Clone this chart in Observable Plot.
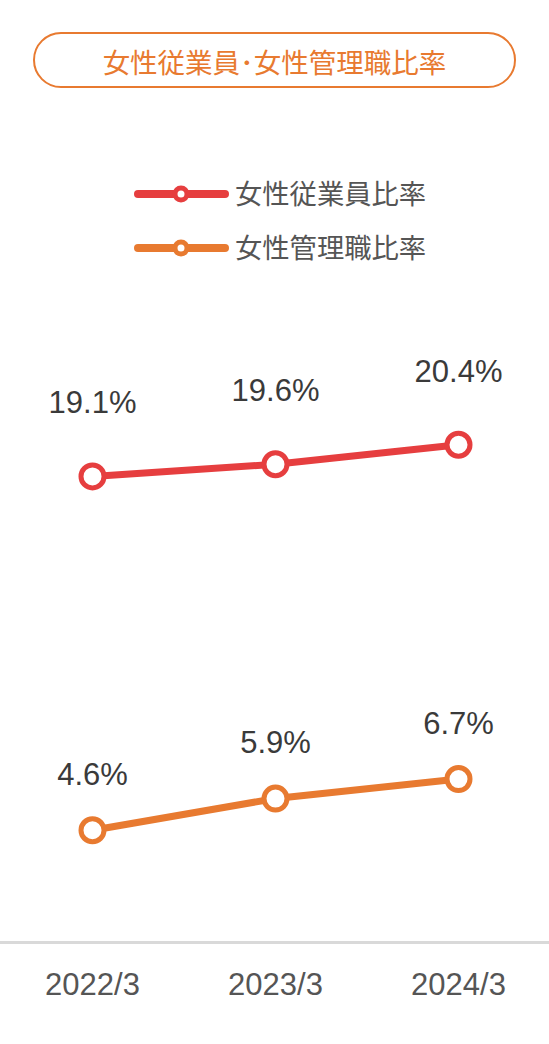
<!DOCTYPE html>
<html>
<head>
<meta charset="utf-8">
<script src="https://cdn.jsdelivr.net/npm/d3@7"></script>
<script src="https://cdn.jsdelivr.net/npm/@observablehq/plot@0.6"></script>
<style>
  html, body { margin: 0; padding: 0; background: #fff; }
  body { width: 549px; height: 1044px; position: relative; overflow: hidden; font-family: "Liberation Sans", Arial, sans-serif; }
  #title {
    position: absolute; left: 33px; top: 32px; width: 483px; height: 56px; box-sizing: border-box;
    border: 2.5px solid #e87a30; border-radius: 30px;
    color: #e87a30; font-family: "Noto Sans CJK JP", sans-serif; font-size: 27.5px;
    display: flex; align-items: center; justify-content: center; padding-top: 2px;
  }
  #legend { position: absolute; left: 0; top: 160px; }
  #chart { position: absolute; left: 0; top: 280px; }
</style>
</head>
<body>
<div id="title">女性従業員･女性管理職比率</div>
<div id="legend"></div>
<div id="chart"></div>
<script>
const years = ["2022/3", "2023/3", "2024/3"];
const employeeRatio = [19.1, 19.6, 20.4];
const managerRatio = [4.6, 5.9, 6.7];
const seriesNames = ["女性従業員比率", "女性管理職比率"];
const seriesColors = ["#e63e3f", "#e87a30"];

// legend
const legendSvg = d3.create("svg").attr("width", 549).attr("height", 110);
seriesNames.forEach((name, i) => {
  const cy = 34 + i * 54;
  const g = legendSvg.append("g");
  g.append("line").attr("x1", 138).attr("x2", 225).attr("y1", cy).attr("y2", cy)
    .attr("stroke", seriesColors[i]).attr("stroke-width", 8).attr("stroke-linecap", "round");
  g.append("circle").attr("cx", 181).attr("cy", cy).attr("r", 6)
    .attr("fill", "#fff").attr("stroke", seriesColors[i]).attr("stroke-width", 5);
  g.append("text").attr("x", 235).attr("y", cy).attr("dy", "0.36em")
    .attr("font-family", "'Noto Sans CJK JP', sans-serif").attr("font-size", 27.3)
    .attr("fill", "#555").text(name);
});
document.getElementById("legend").append(legendSvg.node());

const employee = years.map((y, i) => ({year: y, value: employeeRatio[i]}));
const manager = years.map((y, i) => ({year: y, value: managerRatio[i]}));

const chart = Plot.plot({
  width: 549,
  height: 764,
  marginLeft: 0,
  marginRight: 0,
  marginTop: 52,
  marginBottom: 102,
  style: {fontFamily: "'Liberation Sans', Arial, sans-serif", background: "#fff"},
  x: {type: "point", domain: years, padding: 0.5},
  y: {domain: [0, 25], axis: null},
  marks: [
    Plot.ruleY([0], {stroke: "#d9d9d9", strokeWidth: 3}),
    Plot.axisX({tickSize: 0, tickPadding: 30, fontSize: 31, fill: "#555", label: null}),
    Plot.line(employee, {x: "year", y: "value", stroke: seriesColors[0], strokeWidth: 7}),
    Plot.line(manager, {x: "year", y: "value", stroke: seriesColors[1], strokeWidth: 7}),
    Plot.dot(employee, {x: "year", y: "value", r: 11.5, fill: "#fff", stroke: seriesColors[0], strokeWidth: 5}),
    Plot.dot(manager, {x: "year", y: "value", r: 11.5, fill: "#fff", stroke: seriesColors[1], strokeWidth: 5}),
    Plot.text(employee, {x: "year", y: "value", text: d => d.value.toFixed(1) + "%", dy: -73, fontSize: 31, fill: "#3a3a3a"}),
    Plot.text(manager, {x: "year", y: "value", text: d => d.value.toFixed(1) + "%", dy: -55, fontSize: 31, fill: "#3a3a3a"})
  ]
});
document.getElementById("chart").append(chart);
</script>
</body>
</html>
